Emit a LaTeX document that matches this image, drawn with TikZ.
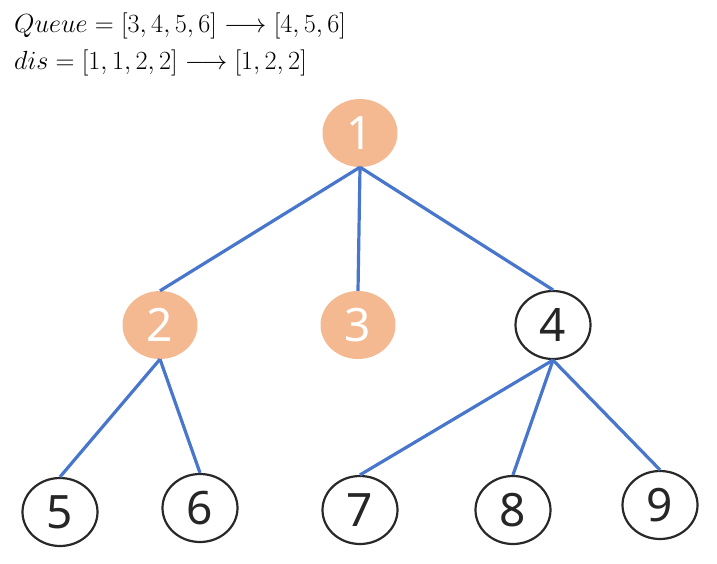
\documentclass[tikz,border=0pt]{standalone}
\usepackage{fontspec}
\usepackage{amsmath}
\usetikzlibrary{shapes.geometric}
\newfontfamily\nodefont{Noto Sans}
\definecolor{edgeblue}{RGB}{72,118,204}
\definecolor{peach}{RGB}{244,185,145}
\definecolor{ringgray}{RGB}{40,40,40}
\begin{document}
\begin{tikzpicture}[x=1pt,y=-1pt,
  vtx/.style={ellipse, minimum width=75pt, minimum height=68pt, inner sep=0pt,
    font=\nodefont\fontsize{46}{46}\selectfont},
  hot/.style={vtx, fill=peach, text=white},
  cold/.style={vtx, draw=ringgray, line width=2.2pt, text=black!85},
  edge/.style={edgeblue, line width=3.2pt},
  eq/.style={anchor=base west, inner sep=0pt, font=\fontsize{24.88}{30}\selectfont}]
\useasboundingbox (0,0) rectangle (717,564);
\node[eq] (l1) at (14,33) {\scalebox{1.055}{$Queue=[3,4,5,6]\longrightarrow[4,5,6]$}};
\node[eq] (l2) at (14,70) {\scalebox{1.055}{$dis=[1,1,2,2]\longrightarrow[1,2,2]$}};
\node[hot] (n1) at (360,133) {1};
\node[hot] (n2) at (160,325) {2};
\node[hot] (n3) at (358,325) {3};
\node[cold] (n4) at (553,325) {4};
\node[cold] (n5) at (60,512) {5};
\node[cold] (n6) at (200,508) {6};
\node[cold] (n7) at (360,510) {7};
\node[cold] (n8) at (513,510) {8};
\node[cold] (n9) at (660,505) {9};
\draw[edge] (n1.south) -- (n2.north);
\draw[edge] (n1.south) -- (n3.north);
\draw[edge] (n1.south) -- (n4.north);
\draw[edge] (n2.south) -- (n5.north);
\draw[edge] (n2.south) -- (n6.north);
\draw[edge] (n4.south) -- (n7.north);
\draw[edge] (n4.south) -- (n8.north);
\draw[edge] (n4.south) -- (n9.north);
\end{tikzpicture}
\end{document}
